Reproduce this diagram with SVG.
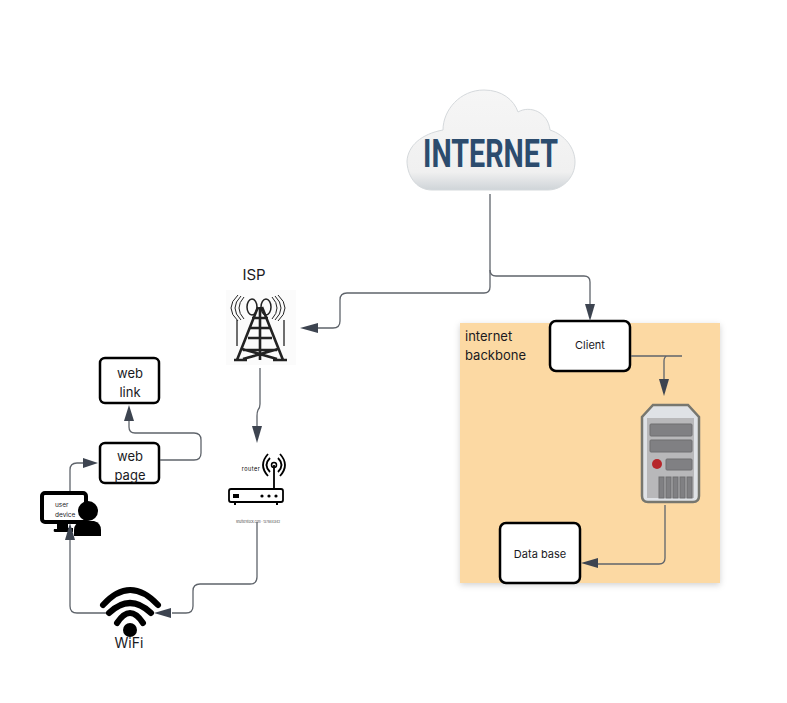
<svg xmlns="http://www.w3.org/2000/svg" width="787" height="703" viewBox="0 0 787 703">
<style>
text{font-family:"Inter","Liberation Sans",sans-serif;fill:#1a1a1e}
.box{fill:#fff;stroke:#000;stroke-width:2.5}
.c{fill:none;stroke:#5f646b;stroke-width:1.3}
.a{fill:#3d4450;stroke:none}
.k{fill:none;stroke:#000}
.t{stroke:#222;fill:none;stroke-width:1}
</style>
<defs>
<filter id="sh" x="-5%" y="-5%" width="110%" height="110%"><feDropShadow dx="0" dy="2" stdDeviation="3" flood-color="#000" flood-opacity=".18"/></filter>
<linearGradient id="cl" x1="0" y1="0" x2="0" y2="1"><stop offset="0" stop-color="#f6f6f6"/><stop offset=".82" stop-color="#f0f0f0"/><stop offset="1" stop-color="#cfd4d8"/></linearGradient>
</defs>
<rect id="backbone" x="460" y="323" width="260" height="260" fill="#fcd9a3" filter="url(#sh)"/>
<g id="internet">
<path d="M432 190C415 190 407 174 407 161C408 146 421 134 443 130C443 110 460 90 484 90C502 90 514 100 518 112C530 105 548 112 550 130C565 135 575 148 575 162C575 178 562 190 548 190Z" fill="url(#cl)" stroke="#d5d9dc"/>
<text x="423" y="167" style="font-family:'Roboto',sans-serif;fill:#2c4c6e" font-size="38" font-weight="700" textLength="135" lengthAdjust="spacingAndGlyphs">INTERNET</text>
</g>
<g id="isp">
<rect x="226" y="290" width="70" height="75" fill="#fbfbfb"/>
<text x="254" y="280" text-anchor="middle" font-size="15">ISP</text>
<path stroke="#222" fill="none" stroke-width="2.6" d="M237 360L258 307M283 360L262 307M243 350H277M248 338H272M242 349L277 359M278 349L243 359M250 328H270M252 318H268M260 307V360"/>
<path d="M234 360H247M273 360H287" stroke="#222" stroke-width="2.5"/>
<ellipse class="t" style="stroke-width:1.5" cx="252" cy="307" rx="5" ry="8"/><ellipse class="t" style="stroke-width:1.5" cx="266" cy="307" rx="5" ry="8"/>
<path class="t" d="M244 297Q234 308 244 319M241 296Q229 308 241 320M238 295Q224 308 238 321M272 297Q282 308 272 319M275 296Q287 308 275 320M278 295Q292 308 278 321"/>
<path d="M237 320V346M284 320V346" stroke="#333" stroke-width="1.4"/>
</g>
<g id="router">
<text x="251" y="471" text-anchor="middle" font-size="5.5" letter-spacing=".5" style="fill:#000">router</text>
<path class="k" stroke-width="1.8" d="M274 465V490M270 472Q263 465 270 458M278 472Q285 465 278 458M268 476Q258 465 268 454M280 476Q290 465 280 454"/>
<circle cx="274" cy="465" r="2.5" fill="none" stroke="#000" stroke-width="1.5"/>
<rect x="229" y="489" width="54" height="13" rx="2" fill="#fff" stroke="#000" stroke-width="1.8"/>
<rect x="233" y="494" width="6" height="4"/><circle cx="262" cy="496" r="1.6"/><circle cx="269" cy="496" r="1.6"/><circle cx="276" cy="496" r="1.6"/>
<path d="M235 502v3M277 502v3" stroke="#000" stroke-width="2"/>
<text x="236" y="523" font-size="4" textLength="44" lengthAdjust="spacingAndGlyphs" style="fill:#444">shutterstock.com · 1379443l42</text>
</g>
<g id="webpage"><rect class="box" x="100" y="443" width="59" height="40" rx="5"/><text x="130" y="461" text-anchor="middle" font-size="13">web</text><text x="130" y="480" text-anchor="middle" font-size="13">page</text></g>
<g id="weblink"><rect class="box" x="100" y="358" width="59" height="45" rx="5"/><text x="130" y="378" text-anchor="middle" font-size="13">web</text><text x="130" y="397" text-anchor="middle" font-size="13">link</text></g>
<g id="userdevice">
<rect x="42" y="493" width="44" height="29" rx="3" fill="#fff" stroke="#000" stroke-width="4"/>
<path d="M57 524H68V528H73V532H55Q53 532 54 529H57Z"/>
<circle cx="88" cy="511" r="10"/>
<path d="M74 536V530Q74 523 82 521H94Q101 523 101 530V536Z"/>
<text x="55" y="507" font-size="6.5">user</text><text x="55" y="517" font-size="6.5">device</text>
</g>
<g id="wifi">
<path class="k" stroke-width="6" stroke-linecap="round" d="M103 605Q130 575 158 605M109 613Q130 593 151 613M117 623Q130 603 143 623"/>
<circle cx="130" cy="630" r="7"/>
<text x="129" y="648" text-anchor="middle" font-size="14">WiFi</text>
</g>
<g id="backbonelabel"><text x="465" y="341" font-size="13">internet</text><text x="465" y="360" font-size="13">backbone</text></g>
<g id="client"><rect class="box" x="550" y="321" width="80" height="50" rx="6"/><text x="590" y="349" text-anchor="middle" font-size="11">Client</text></g>
<g id="server">
<path d="M653 405H688L699 417V496Q699 502 693 502H648Q642 502 642 496V417Z" fill="#dfe2e6" stroke="#77776f" stroke-width="2.5"/>
<path d="M647 418H694V498H647Z" fill="#b8b8ba"/>
<g fill="#808083" stroke="#6e6e70"><rect x="650" y="424" width="42" height="12" rx="1"/><rect x="650" y="440" width="42" height="12" rx="1"/><rect x="666" y="459" width="26" height="11" rx="1"/><rect x="659" y="477" width="5" height="21"/><rect x="666" y="477" width="5" height="21"/><rect x="673" y="477" width="5" height="21"/><rect x="680" y="477" width="5" height="21"/><rect x="687" y="477" width="5" height="21"/></g>
<circle cx="657" cy="464" r="5" fill="#b6262a"/>
</g>
<g id="database"><rect class="box" x="500" y="523" width="80" height="60" rx="6"/><text x="540" y="558" text-anchor="middle" font-size="11">Data base</text></g>
<g id="connectors">
<path class="c" d="M490 194V287Q490 293 484 293H347Q340 293 340 300V321Q340 328 333 328H315"/>
<path class="a" d="M300 328L318 323V333Z"/>
<path class="c" d="M490 270Q490 276 496 276H584Q590 276 590 282V306"/>
<path class="a" d="M590 321L585 304H595Z"/>
<path class="c" d="M260 368V404Q260 408 258 410Q257 412 257 416V428"/>
<path class="a" d="M257 443L252 426H262Z"/>
<path class="c" d="M631 356H682M667 356Q664 357 664 361V381"/>
<path class="a" d="M664 396L659 379H669Z"/>
<path class="c" d="M665 505V558Q665 564 659 564H598"/>
<path class="a" d="M581 563L598 558V568Z"/>
<path class="c" d="M257 522V577Q257 584 250 584H200Q193 584 193 591V606Q193 613 186 613H172"/>
<path class="a" d="M154 613L171 608V618Z"/>
<path class="c" d="M106 613H77Q70 613 70 606V538"/>
<path class="a" d="M70 523L65 540H75Z"/>
<path class="c" d="M70 491V470Q70 463 77 463H85"/>
<path class="a" d="M98 463L83 458V468Z"/>
<path class="c" d="M160 460H194Q201 460 201 453V440Q201 433 194 433H135Q129 433 129 427V420"/>
<path class="a" d="M129 405L124 421H134Z"/>
</g>
</svg>
